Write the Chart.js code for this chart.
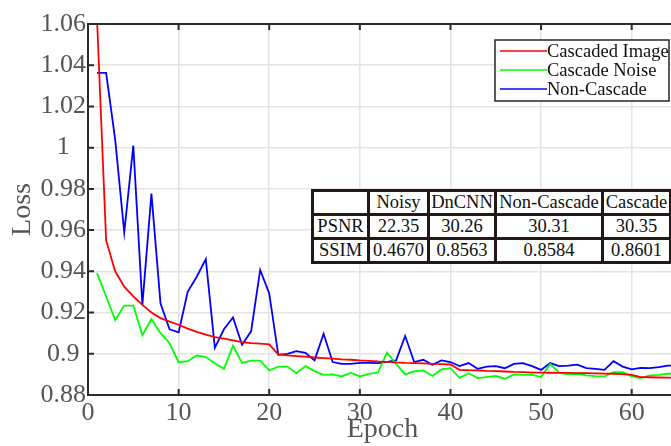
<!DOCTYPE html>
<html>
<head>
<meta charset="utf-8">
<script src="https://cdn.jsdelivr.net/npm/chart.js@4.4.0/dist/chart.umd.min.js"></script>
<style>
  html, body { margin: 0; padding: 0; background: #fff; overflow: hidden; }
  #wrap { position: relative; width: 680px; height: 446px; }
  #scores {
    position: absolute; left: 311px; top: 189px;
    border-collapse: collapse; background: #fff;
    font-family: "Liberation Serif", "DejaVu Serif", serif; font-size: 18.5px; color: #111;
  }
  #scores td { border: 3px solid #231815; height: 21px; padding: 0; text-align: center; line-height: 21px; white-space: nowrap; }
</style>
</head>
<body>
<div id="wrap">
  <canvas id="myChart" width="680" height="446"></canvas>
  <table id="scores"></table>
</div>
<script>
var epochs = [1, 2, 3, 4, 5, 6, 7, 8, 9, 10, 11, 12, 13, 14, 15, 16, 17, 18, 19, 20,
  21, 22, 23, 24, 25, 26, 27, 28, 29, 30, 31, 32, 33, 34, 35, 36, 37, 38, 39, 40,
  41, 42, 43, 44, 45, 46, 47, 48, 49, 50, 51, 52, 53, 54, 55, 56, 57, 58, 59, 60,
  61, 62, 63, 64, 65];

var cascadedImage = [1.062, 0.955, 0.940, 0.9326, 0.9278, 0.9237, 0.9200, 0.9173, 0.9156, 0.9141,
  0.9122, 0.9106, 0.9093, 0.9081, 0.9073, 0.9065, 0.9057, 0.9052, 0.9049, 0.9046,
  0.8997, 0.8992, 0.8989, 0.8986, 0.8982, 0.8979, 0.8976, 0.8973, 0.8971, 0.8968,
  0.8966, 0.8963, 0.8961, 0.8958, 0.8956, 0.8955, 0.8953, 0.8951, 0.8950, 0.8948,
  0.8922, 0.8920, 0.8919, 0.8917, 0.8916, 0.8914, 0.8912, 0.8911, 0.8909, 0.8909,
  0.8908, 0.8907, 0.8907, 0.8906, 0.8906, 0.8905, 0.8904, 0.8903, 0.8901, 0.8898,
  0.8887, 0.8886, 0.8885, 0.8884, 0.8883];

var cascadeNoise = [0.9391, 0.9278, 0.9164, 0.9234, 0.9234, 0.9090, 0.9169, 0.9100, 0.9051, 0.8959,
  0.8964, 0.8992, 0.8984, 0.8954, 0.8927, 0.9039, 0.8956, 0.8967, 0.8967, 0.8919,
  0.8938, 0.8938, 0.8906, 0.8940, 0.8916, 0.8898, 0.8900, 0.8890, 0.8908, 0.8890,
  0.8903, 0.8909, 0.9005, 0.8951, 0.8900, 0.8914, 0.8919, 0.8892, 0.8924, 0.8930,
  0.8883, 0.8906, 0.8882, 0.8887, 0.8892, 0.8879, 0.8900, 0.8898, 0.8898, 0.8887,
  0.8951, 0.8908, 0.8900, 0.8903, 0.8895, 0.8892, 0.8890, 0.8911, 0.8911, 0.8890,
  0.8882, 0.8895, 0.8898, 0.8903, 0.8905];

var nonCascade = [1.0363, 1.0363, 1.0039, 0.9589, 1.0010, 0.9237, 0.9777, 0.9245, 0.9119, 0.9104,
  0.9301, 0.9374, 0.9459, 0.9029, 0.9119, 0.9176, 0.9044, 0.9109, 0.9407, 0.9293,
  0.8995, 0.9000, 0.9013, 0.9005, 0.8968, 0.9097, 0.8960, 0.8951, 0.8951, 0.8956,
  0.8956, 0.8955, 0.8961, 0.8968, 0.9086, 0.8960, 0.8971, 0.8947, 0.8968, 0.8960,
  0.8940, 0.8955, 0.8927, 0.8938, 0.8940, 0.8930, 0.8951, 0.8955, 0.8940, 0.8922,
  0.8955, 0.8940, 0.8943, 0.8947, 0.8930, 0.8927, 0.8922, 0.8964, 0.8938, 0.8924,
  0.8932, 0.8930, 0.8935, 0.8943, 0.8943];

// comparison table
var tableHead = ['', 'Noisy', 'DnCNN', 'Non-Cascade', 'Cascade'];
var psnrRow = ['PSNR', '22.35', '30.26', '30.31', '30.35'];
var ssimRow = ['SSIM', '0.4670', '0.8563', '0.8584', '0.8601'];
var colWidths = [53, 57, 64, 104, 65];

var serif = '"Liberation Serif", "DejaVu Serif", serif';

function pairs(ys) {
  return epochs.map(function (e, i) { return { x: e, y: ys[i] }; });
}

var table = document.getElementById('scores');
[tableHead, psnrRow, ssimRow].forEach(function (row) {
  var tr = document.createElement('tr');
  row.forEach(function (txt, i) {
    var td = document.createElement('td');
    td.textContent = txt;
    td.style.width = colWidths[i] + 'px';
    tr.appendChild(td);
  });
  table.appendChild(tr);
});

// box frame with inward ticks, like the matlab axes
var framePlugin = {
  id: 'frame',
  afterDatasetsDraw: function (chart) {
    var a = chart.chartArea, ctx = chart.ctx;
    var xs = chart.scales.x, ys = chart.scales.y;
    ctx.save();
    ctx.strokeStyle = '#2b2b2b';
    ctx.lineWidth = 2;
    ctx.beginPath();
    ctx.rect(a.left, a.top, a.right - a.left, a.bottom - a.top);
    xs.ticks.forEach(function (t) {
      var px = xs.getPixelForValue(t.value);
      ctx.moveTo(px, a.bottom); ctx.lineTo(px, a.bottom - 6);
      ctx.moveTo(px, a.top); ctx.lineTo(px, a.top + 6);
    });
    ys.ticks.forEach(function (t) {
      var py = ys.getPixelForValue(t.value);
      ctx.moveTo(a.left, py); ctx.lineTo(a.left + 6, py);
      ctx.moveTo(a.right, py); ctx.lineTo(a.right - 6, py);
    });
    ctx.stroke();
    ctx.restore();
  }
};

var boxLegend = {
  id: 'boxLegend',
  afterDraw: function (chart) {
    var a = chart.chartArea, ctx = chart.ctx;
    var x0 = a.right - 182, y0 = a.top + 16, w = 174, h = 61;
    ctx.save();
    ctx.fillStyle = '#fff';
    ctx.fillRect(x0, y0, w, h);
    ctx.strokeStyle = '#262626';
    ctx.lineWidth = 1.5;
    ctx.strokeRect(x0, y0, w, h);
    ctx.font = '18.5px ' + serif;
    ctx.textBaseline = 'middle';
    chart.data.datasets.forEach(function (ds, i) {
      var yy = y0 + 11 + i * 19;
      ctx.strokeStyle = ds.borderColor;
      ctx.lineWidth = 1.5;
      ctx.beginPath();
      ctx.moveTo(x0 + 5, yy); ctx.lineTo(x0 + 52, yy);
      ctx.stroke();
      ctx.fillStyle = '#111';
      ctx.fillText(ds.label, x0 + 52, yy + 1);
    });
    ctx.restore();
  }
};

new Chart("myChart", {
  type: "line",
  data: {
    datasets: [{
      label: 'Cascaded Image',
      data: pairs(cascadedImage),
      borderColor: "#ff0000",
      borderWidth: 1.8,
      pointRadius: 0,
      fill: false
    }, {
      label: 'Cascade Noise',
      data: pairs(cascadeNoise),
      borderColor: "#00ff00",
      borderWidth: 1.8,
      pointRadius: 0,
      fill: false
    }, {
      label: 'Non-Cascade',
      data: pairs(nonCascade),
      borderColor: "#0000ff",
      borderWidth: 1.8,
      pointRadius: 0,
      fill: false
    }]
  },
  options: {
    responsive: false,
    animation: false,
    devicePixelRatio: 1,
    layout: { padding: { top: 24, right: 3, left: 0, bottom: 0 } },
    plugins: {
      legend: { display: false },
      tooltip: { enabled: false }
    },
    scales: {
      x: {
        type: 'linear',
        min: 0,
        max: 65,
        afterFit: function (s) { s.height = 51; },
        border: { display: false },
        grid: { color: '#e3e3e3', lineWidth: 1.5, drawTicks: false },
        ticks: {
          stepSize: 10,
          padding: 3,
          maxRotation: 0,
          color: '#555',
          font: { family: serif, size: 26 },
          callback: function (v) { return v % 10 === 0 ? String(v) : ''; }
        },
        title: {
          display: true,
          text: 'Epoch',
          color: '#555',
          font: { family: serif, size: 28 },
          padding: { top: -8, bottom: 0 }
        }
      },
      y: {
        min: 0.88,
        max: 1.06,
        afterFit: function (s) { s.width = 88; },
        border: { display: false },
        grid: { color: '#e3e3e3', lineWidth: 1.5, drawTicks: false },
        ticks: {
          stepSize: 0.02,
          padding: 2,
          crossAlign: 'center',
          color: '#555',
          font: { family: serif, size: 26 },
          callback: function (v) { return String(+v.toFixed(2)); }
        },
        title: {
          display: true,
          text: 'Loss',
          color: '#555',
          font: { family: serif, size: 28 },
          padding: { top: 6, bottom: 0 }
        }
      }
    }
  },
  plugins: [framePlugin, boxLegend]
});
</script>
</body>
</html>
